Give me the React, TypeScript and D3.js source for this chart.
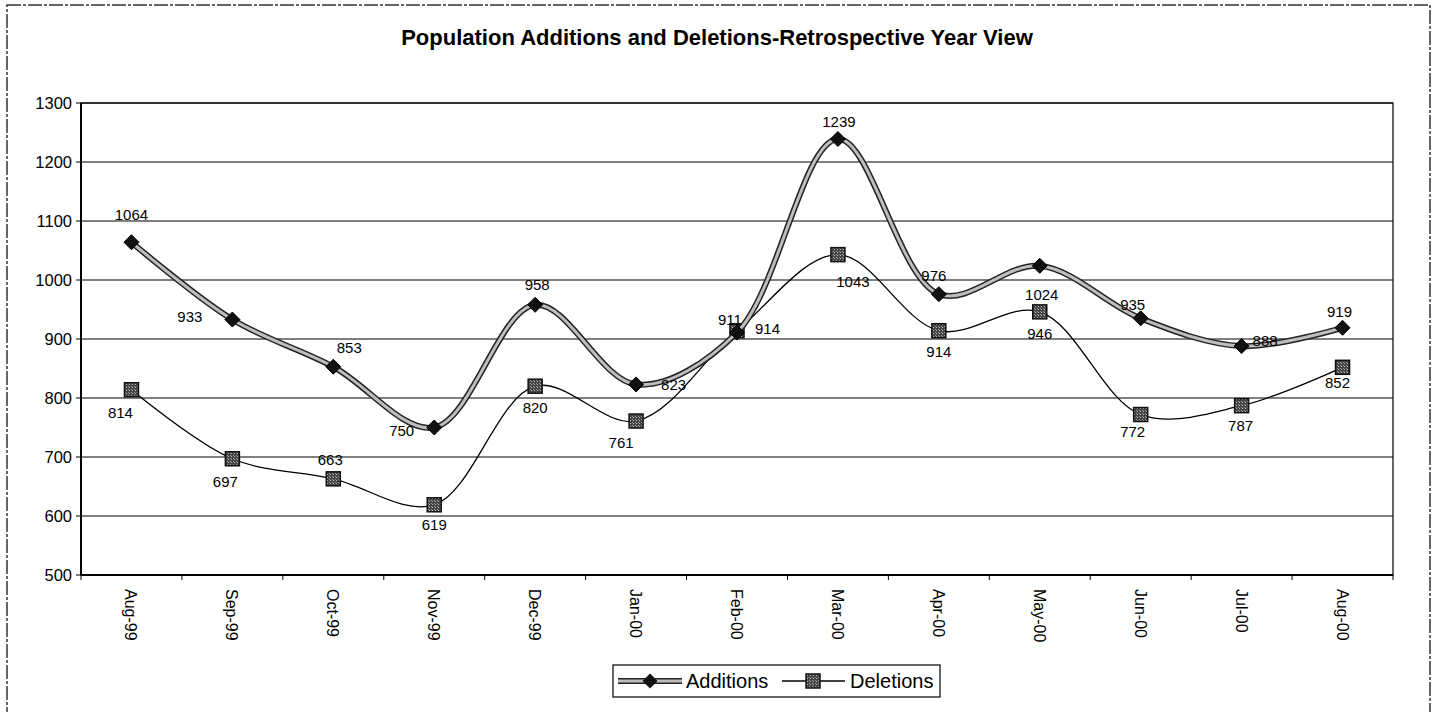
import React from "react";
import * as d3 from "d3";

const months = ["Aug-99","Sep-99","Oct-99","Nov-99","Dec-99","Jan-00","Feb-00","Mar-00","Apr-00","May-00","Jun-00","Jul-00","Aug-00"];
const additions = [1064,933,853,750,958,823,911,1239,976,1024,935,888,919];
const deletions = [814,697,663,619,820,761,914,1043,914,946,772,787,852];
const yTicks = [500,600,700,800,900,1000,1100,1200,1300];

// label placement (dx, dy, anchor) relative to each point, as in the source
const additionsLabelLayout: [number, number, string][] = [
  [0,-22,"middle"],[-30,2,"end"],[16,-14,"middle"],[-20,8,"end"],[2,-15,"middle"],[25,6,"start"],
  [-7,-8,"middle"],[1,-12,"middle"],[-5,-13,"middle"],[2,34,"middle"],[-8,-8,"middle"],[11,0,"start"],[-3,-11,"middle"],
];
const deletionsLabelLayout: [number, number, string][] = [
  [-11,28,"middle"],[-7,28,"middle"],[-3,-14,"middle"],[0,25,"middle"],[0,27,"middle"],[-15,27,"middle"],
  [18,3,"start"],[15,32,"middle"],[0,26,"middle"],[0,27,"middle"],[-8,22,"middle"],[-1,25,"middle"],[-5,21,"middle"],
];

const W = 1434, H = 712;
const M = { left: 81, top: 103, right: 1393, bottom: 575 };
const FONT = "Arial, 'Liberation Sans', Helvetica, sans-serif";

export default function App() {
  const x = d3.scaleBand<string>().domain(months).range([M.left, M.right]);
  const y = d3.scaleLinear().domain([500, 1300]).range([M.bottom, M.top]);
  const cx = (m: string) => (x(m) as number) + x.bandwidth() / 2;
  const line = d3.line<number>()
    .x((_, i) => cx(months[i]))
    .y((d) => y(d))
    .curve(d3.curveCatmullRom.alpha(0.5));
  const addPath = line(additions) as string;
  const delPath = line(deletions) as string;

  const diamond = (px: number, py: number, r = 7.5) =>
    `M${px},${py - r}L${px + r},${py}L${px},${py + r}L${px - r},${py}Z`;

  const Square = ({ px, py }: { px: number; py: number }) => (
    <rect x={px - 7} y={py - 7} width={14} height={14} fill="url(#hatch)" stroke="#111" strokeWidth={1.5} />
  );

  const label = (v: number, i: number, lay: [number, number, string], key: string) => {
    const [dx, dy, anchor] = lay;
    return (
      <text key={key} x={cx(months[i]) + dx} y={y(v) + dy} textAnchor={anchor as any}
        fontSize={15} fontFamily={FONT} fill="#000">{v}</text>
    );
  };

  return (
    <svg width={W} height={H} style={{ position: "absolute", left: 0, top: 0, background: "#fff" }}>
      <defs>
        <pattern id="hatch" width="3" height="3" patternUnits="userSpaceOnUse">
          <rect width="3" height="3" fill="#444" />
          <rect width="1" height="1" fill="#bbb" />
          <rect x="2" y="2" width="1" height="1" fill="#999" />
        </pattern>
      </defs>
      {/* outer frame */}
      <rect x={7} y={5} width={1423} height={720} fill="none" stroke="#333" strokeWidth={1.5} strokeDasharray="14 2 3 2" />
      <text x={717} y={45} textAnchor="middle" fontSize={22} fontWeight="bold" fontFamily={FONT}>
        Population Additions and Deletions-Retrospective Year View
      </text>

      {/* gridlines */}
      {yTicks.map((t) => (
        <g key={t}>
          <line x1={M.left} x2={M.right} y1={y(t)} y2={y(t)} stroke="#000" strokeWidth={1} />
          <line x1={M.left - 5} x2={M.left} y1={y(t)} y2={y(t)} stroke="#000" strokeWidth={1} />
          <text x={M.left - 9} y={y(t) + 6} textAnchor="end" fontSize={16.5} fontFamily={FONT}>{t}</text>
        </g>
      ))}
      <rect x={M.left} y={M.top} width={M.right - M.left} height={M.bottom - M.top} fill="none" stroke="#000" strokeWidth={1.2} />
      <line x1={M.left} x2={M.left} y1={M.top} y2={M.bottom} stroke="#000" strokeWidth={2} />
      <line x1={M.left} x2={M.right} y1={M.bottom} y2={M.bottom} stroke="#000" strokeWidth={2} />

      {/* x ticks */}
      {months.map((m) => (
        <line key={"t" + m} x1={x(m) as number} x2={x(m) as number} y1={M.bottom} y2={M.bottom + 5} stroke="#000" />
      ))}
      <line x1={M.right} x2={M.right} y1={M.bottom} y2={M.bottom + 5} stroke="#000" />
      {months.map((m) => (
        <text key={"l" + m} transform={`translate(${cx(m) - 6},${M.bottom + 14}) rotate(90)`}
          textAnchor="start" fontSize={16} fontFamily={FONT}>{m}</text>
      ))}

      {/* deletions */}
      <path d={delPath} fill="none" stroke="#000" strokeWidth={1.3} />
      {deletions.map((v, i) => <Square key={"ds" + i} px={cx(months[i])} py={y(v)} />)}

      {/* additions */}
      <path d={addPath} fill="none" stroke="#222" strokeWidth={6} />
      <path d={addPath} fill="none" stroke="#bdbdbd" strokeWidth={3} />
      {additions.map((v, i) => <path key={"ad" + i} d={diamond(cx(months[i]), y(v))} fill="#111" stroke="#000" />)}

      {additions.map((v, i) => label(v, i, additionsLabelLayout[i], "al" + i))}
      {deletions.map((v, i) => label(v, i, deletionsLabelLayout[i], "dl" + i))}

      {/* legend */}
      <rect x={613} y={665} width={327} height={32} fill="#fff" stroke="#000" strokeWidth={1.2} />
      <line x1={618} x2={682} y1={681} y2={681} stroke="#222" strokeWidth={6} />
      <line x1={618} x2={682} y1={681} y2={681} stroke="#bdbdbd" strokeWidth={3} />
      <path d={diamond(650, 681)} fill="#111" />
      <text x={686} y={688} fontSize={20} fontFamily={FONT}>Additions</text>
      <line x1={782} x2={845} y1={681} y2={681} stroke="#000" strokeWidth={1.3} />
      <Square px={813} py={681} />
      <text x={850} y={688} fontSize={20} fontFamily={FONT}>Deletions</text>
    </svg>
  );
}
